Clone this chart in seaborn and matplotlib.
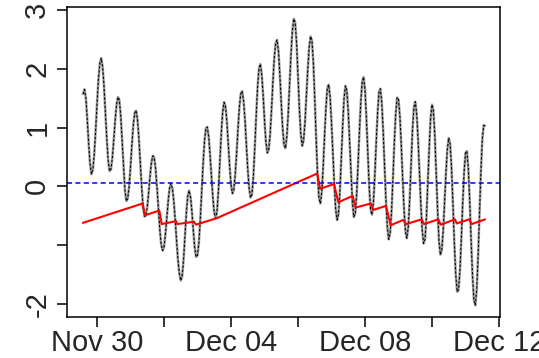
import numpy as np
import pandas as pd
import matplotlib
matplotlib.use("Agg")
import matplotlib.pyplot as plt
import seaborn as sns

# hourly water level, first value at Nov 29 14:00
start = pd.Timestamp("2013-11-30")
level_first_hour = -10
level = [
    1.57, 1.65, 1.51, 1.15, 0.74, 0.39, 0.21, 0.28, 0.54, 0.94,
    1.40, 1.81, 2.09, 2.18, 2.04, 1.71, 1.26, 0.81, 0.44, 0.26,
    0.29, 0.49, 0.79, 1.12, 1.39, 1.52, 1.47, 1.20, 0.77, 0.31,
    -0.06, -0.25, -0.21, 0.00, 0.33, 0.71, 1.04, 1.25, 1.29, 1.14,
    0.82, 0.40, -0.01, -0.35, -0.51, -0.50, -0.35, -0.10, 0.18, 0.41,
    0.52, 0.49, 0.29, -0.02, -0.39, -0.74, -0.99, -1.09, -1.03, -0.82,
    -0.53, -0.25, -0.03, 0.05, -0.03, -0.25, -0.56, -0.92, -1.25, -1.48,
    -1.60, -1.53, -1.25, -0.86, -0.45, -0.16, -0.07, -0.18, -0.43, -0.75,
    -1.04, -1.20, -1.17, -0.95, -0.56, -0.09, 0.38, 0.76, 0.99, 1.01,
    0.85, 0.54, 0.17, -0.19, -0.45, -0.54, -0.42, -0.07, 0.40, 0.89,
    1.26, 1.43, 1.37, 1.12, 0.74, 0.35, 0.03, -0.12, -0.06, 0.20,
    0.56, 0.98, 1.35, 1.58, 1.62, 1.46, 1.14, 0.72, 0.29, -0.03,
    -0.19, -0.14, 0.16, 0.64, 1.18, 1.67, 2.00, 2.08, 1.91, 1.56,
    1.13, 0.76, 0.57, 0.62, 0.88, 1.29, 1.77, 2.18, 2.44, 2.49,
    2.30, 1.90, 1.42, 0.99, 0.70, 0.65, 0.85, 1.24, 1.75, 2.26,
    2.65, 2.85, 2.78, 2.43, 1.89, 1.32, 0.89, 0.69, 0.78, 1.09,
    1.53, 1.99, 2.37, 2.55, 2.48, 2.10, 1.50, 0.82, 0.21, -0.19,
    -0.29, -0.10, 0.32, 0.85, 1.33, 1.67, 1.73, 1.52, 1.09, 0.56,
    0.03, -0.39, -0.57, -0.47, -0.10, 0.46, 1.03, 1.50, 1.71, 1.63,
    1.27, 0.74, 0.17, -0.28, -0.52, -0.46, -0.15, 0.36, 0.93, 1.44,
    1.78, 1.86, 1.65, 1.16, 0.57, 0.00, -0.39, -0.48, -0.28, 0.17,
    0.73, 1.24, 1.60, 1.66, 1.43, 0.95, 0.35, -0.23, -0.69, -0.90,
    -0.80, -0.43, 0.13, 0.74, 1.23, 1.51, 1.48, 1.19, 0.70, 0.12,
    -0.40, -0.77, -0.88, -0.69, -0.23, 0.37, 0.95, 1.34, 1.44, 1.24,
    0.81, 0.25, -0.30, -0.75, -0.97, -0.90, -0.53, 0.05, 0.66, 1.16,
    1.39, 1.29, 0.87, 0.25, -0.40, -0.93, -1.16, -1.08, -0.76, -0.27,
    0.23, 0.64, 0.82, 0.72, 0.31, -0.30, -0.96, -1.49, -1.79, -1.76,
    -1.44, -0.90, -0.29, 0.24, 0.57, 0.60, 0.31, -0.23, -0.90, -1.50,
    -1.92, -2.02, -1.77, -1.20, -0.49, 0.22, 0.79, 1.04, 1.03,
]

# red running estimate (hours after Nov 30 00:00, value)
red_hours = [-10.2, 32.7, 34.4, 44.6, 46.4, 56.6, 57.5, 69.5, 70.9, 85.8,
             157.8, 159.8, 169.8, 172.9, 183.2, 185.2, 196.1, 197.9, 207.0,
             210.4, 219.4, 221.4, 232.6, 234.3, 244.5, 246.2, 256.5, 257.7,
             266.7, 268.4, 278.0]
red_vals = [-0.62, -0.29, -0.49, -0.41, -0.64, -0.59, -0.64, -0.60, -0.65,
            -0.54, 0.22, -0.04, 0.04, -0.27, -0.16, -0.36, -0.29, -0.40,
            -0.33, -0.66, -0.57, -0.64, -0.56, -0.64, -0.56, -0.65, -0.56,
            -0.63, -0.56, -0.64, -0.56]

ref_level = 0.06

y_ticks = [-2, -1, 0, 1, 2, 3]
y_labels = ["-2", "", "0", "1", "2", "3"]
x_tick_days = [0, 2, 4, 6, 8, 10, 12]
x_labels = ["Nov 30", "", "Dec 04", "", "Dec 08", "", "Dec 12"]

sns.set_style("white")
plt.rcParams['font.family'] = ['Liberation Sans', 'DejaVu Sans']

times = start + pd.to_timedelta(np.arange(len(level)) + level_first_hour, unit="h")
red_times = start + pd.to_timedelta(red_hours, unit="h")

fig = plt.figure(figsize=(5.39, 3.58), dpi=100)
ax = fig.add_axes([0.1243, 0.1145, 0.8033, 0.8659])

# grey line with black points along it
sns.lineplot(x=times, y=level, color="#9c9c9c", lw=1.8, ax=ax)
sns.lineplot(x=times, y=level, color="black", lw=0.75,
             linestyle=(0, (2.4, 1.6)), ax=ax)
sns.lineplot(x=red_times, y=red_vals, color="red", lw=1.5, ax=ax)
ax.axhline(ref_level, color="blue", lw=1.1, linestyle=(0, (3.3, 2.2)))

ax.set_xlim(start - pd.Timedelta(hours=21.5), start + pd.Timedelta(hours=288.7))
ax.set_ylim(-2.22, 3.05)

ax.set_xticks([start + pd.Timedelta(days=d) for d in x_tick_days])
ax.set_xticklabels(x_labels, fontsize=21)
ax.set_yticks(y_ticks)
ax.set_yticklabels(y_labels, fontsize=21, rotation=90, va="center")
ax.tick_params(axis="both", length=7, width=1.1, color="black",
               direction="out", left=True, bottom=True)
ax.tick_params(axis="x", pad=1.5)
ax.tick_params(axis="y", pad=4.3)
for s in ax.spines.values():
    s.set_linewidth(1.1)
    s.set_color("black")
ax.set_xlabel("")
ax.set_ylabel("")

fig.savefig("out.png", dpi=100)
